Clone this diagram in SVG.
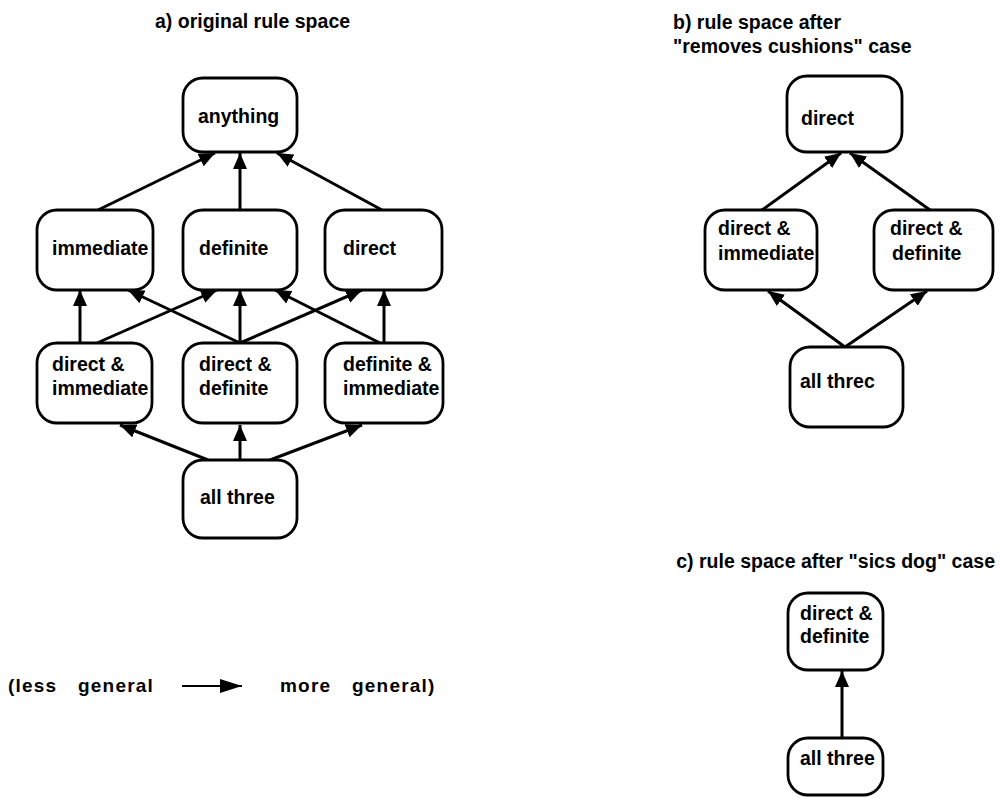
<svg xmlns="http://www.w3.org/2000/svg" width="1000" height="798" viewBox="0 0 1000 798">
<style>
.box{fill:#fff;stroke:#000;stroke-width:2.8}
.t{font-family:"Liberation Sans",Arial,Helvetica,sans-serif;font-weight:bold;font-size:19.5px;fill:#000}
.lg{font-family:"Liberation Sans",Arial,Helvetica,sans-serif;font-weight:bold;font-size:19px;letter-spacing:1.2px;fill:#000}
.e{stroke:#000;stroke-width:3;fill:none;marker-end:url(#ah)}
.e2{stroke:#000;stroke-width:2.2;fill:none;marker-end:url(#ah2)}
</style>
<defs>
<marker id="ah" markerUnits="userSpaceOnUse" markerWidth="16" markerHeight="14" refX="16" refY="7" orient="auto">
<path d="M0,0 L16,7 L0,14 z" fill="#000"/>
</marker>
<marker id="ah2" markerUnits="userSpaceOnUse" markerWidth="22" markerHeight="14" refX="22" refY="7" orient="auto">
<path d="M0,0 L22,7 L0,14 z" fill="#000"/>
</marker>
</defs>
<rect width="1000" height="798" fill="#fff"/>

<g id="titles">
<text class="t" x="155" y="28">a) original rule space</text>
<text class="t" x="673" y="29">b) rule space after</text>
<text class="t" x="673" y="53">"removes cushions" case</text>
<text class="t" x="995" y="568" text-anchor="end">c) rule space after "sics dog" case</text>
</g>

<g id="connectors">
<line class="e" x1="98" y1="210" x2="215" y2="153"/>
<line class="e" x1="240" y1="210" x2="240" y2="153"/>
<line class="e" x1="382" y1="210" x2="277" y2="153"/>
<line class="e" x1="80" y1="343" x2="80" y2="290"/>
<line class="e" x1="97" y1="343" x2="217" y2="290"/>
<line class="e" x1="240" y1="343" x2="128" y2="290"/>
<line class="e" x1="240" y1="343" x2="240" y2="290"/>
<line class="e" x1="240" y1="343" x2="362" y2="290"/>
<line class="e" x1="380" y1="343" x2="275" y2="290"/>
<line class="e" x1="384" y1="343" x2="384" y2="290"/>
<line class="e" x1="208" y1="460" x2="120" y2="425"/>
<line class="e" x1="240" y1="460" x2="240" y2="425"/>
<line class="e" x1="270" y1="460" x2="362" y2="425"/>
<line class="e" x1="762" y1="210" x2="841" y2="153"/>
<line class="e" x1="930" y1="210" x2="850" y2="153"/>
<line class="e" x1="845" y1="347" x2="768" y2="291"/>
<line class="e" x1="845" y1="347" x2="927" y2="291"/>
<line class="e" x1="842" y1="738" x2="842" y2="671"/>
<line class="e2" x1="182" y1="686" x2="242" y2="686"/>
</g>

<g id="a-anything"><rect class="box" x="183" y="78" width="114" height="74" rx="20"/><text class="t" x="198" y="123">anything</text></g>
<g id="a-immediate"><rect class="box" x="37" y="210" width="116" height="80" rx="20"/><text class="t" x="52" y="255">immediate</text></g>
<g id="a-definite"><rect class="box" x="183" y="210" width="114" height="80" rx="20"/><text class="t" x="199" y="255">definite</text></g>
<g id="a-direct"><rect class="box" x="325" y="210" width="117" height="80" rx="20"/><text class="t" x="343" y="255">direct</text></g>
<g id="a-direct-immediate"><rect class="box" x="37" y="343" width="115" height="80" rx="20"/><text class="t" x="52" y="371">direct &amp;</text><text class="t" x="52" y="395">immediate</text></g>
<g id="a-direct-definite"><rect class="box" x="183" y="343" width="114" height="80" rx="20"/><text class="t" x="199" y="371">direct &amp;</text><text class="t" x="199" y="395">definite</text></g>
<g id="a-definite-immediate"><rect class="box" x="325" y="343" width="118" height="80" rx="20"/><text class="t" x="343" y="371">definite &amp;</text><text class="t" x="343" y="395">immediate</text></g>
<g id="a-all-three"><rect class="box" x="183" y="460" width="114" height="78" rx="20"/><text class="t" x="200" y="504">all three</text></g>

<g id="b-direct"><rect class="box" x="787" y="76" width="115" height="76" rx="20"/><text class="t" x="801" y="125">direct</text></g>
<g id="b-direct-immediate"><rect class="box" x="705" y="210" width="112" height="80" rx="20"/><text class="t" x="718" y="235">direct &amp;</text><text class="t" x="718" y="260">immediate</text></g>
<g id="b-direct-definite"><rect class="box" x="874" y="210" width="119" height="80" rx="20"/><text class="t" x="890" y="235">direct &amp;</text><text class="t" x="892" y="260">definite</text></g>
<g id="b-all-three"><rect class="box" x="790" y="347" width="113" height="80" rx="20"/><text class="t" x="800" y="388">all threc</text></g>

<g id="c-direct-definite"><rect class="box" x="788" y="593" width="95" height="77" rx="20"/><text class="t" x="800" y="620">direct &amp;</text><text class="t" x="800" y="643">definite</text></g>
<g id="c-all-three"><rect class="box" x="788" y="738" width="95" height="57" rx="20"/><text class="t" x="800" y="765">all three</text></g>

<g id="legend">
<text class="lg" x="8" y="692">(less</text>
<text class="lg" x="78" y="692">general</text>
<text class="lg" x="280" y="692">more</text>
<text class="lg" x="352" y="692">general)</text>
</g>
</svg>
